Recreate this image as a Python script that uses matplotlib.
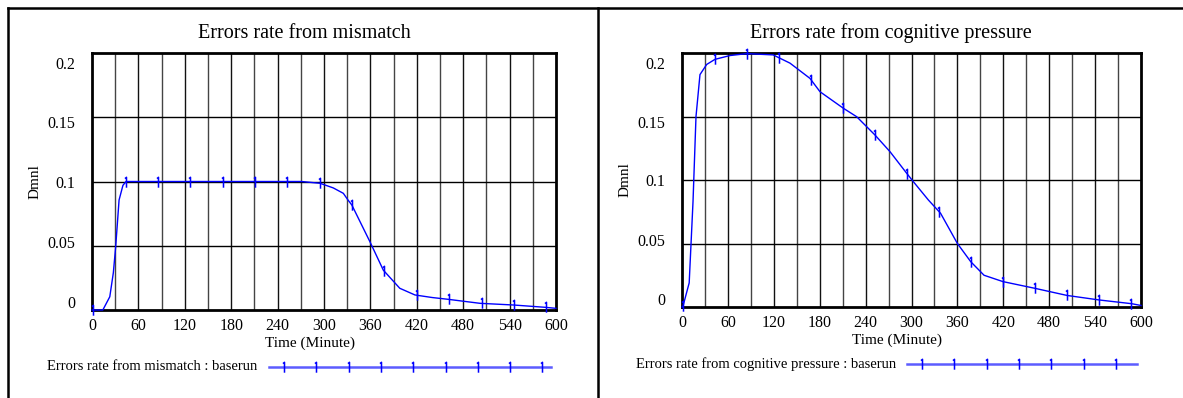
import numpy as np
import matplotlib
matplotlib.use("Agg")
import matplotlib.pyplot as plt
from matplotlib.path import Path
from matplotlib.transforms import ScaledTranslation
from matplotlib.lines import Line2D

# ---------------- data ----------------
mismatch_t = [0, 14, 23, 27.6, 30.6, 35, 40, 44, 100, 200, 271, 295, 312, 325, 331,
              336, 359.5, 376.7, 398, 417.6, 440, 460.7, 501.7, 544.8, 585.8, 600]
mismatch_v = [0, 0, 0.0103, 0.029, 0.049, 0.0856, 0.097, 0.1, 0.1, 0.1, 0.1, 0.0986, 0.095,
              0.0908, 0.0856, 0.0817, 0.053, 0.031, 0.0169, 0.0117, 0.0097, 0.0083, 0.0052,
              0.0039, 0.0021, 0.0013]

cognitive_t = [0, 1, 9.4, 14.4, 18.3, 23.5, 32.3, 43.1, 62.7, 84.6, 119.3, 125.9, 141.2,
               167.3, 180.4, 210.9, 228.4, 252.3, 271.9, 293.7, 302.4, 322, 338, 360, 377.4,
               394.8, 419.5, 461.4, 503.3, 545.8, 587.8, 600]
cognitive_v = [0, 0, 0.019, 0.083, 0.15, 0.183, 0.191, 0.195, 0.198, 0.1995, 0.1985, 0.1965,
               0.192, 0.180, 0.1695, 0.1565, 0.1498, 0.1354, 0.1223, 0.1053, 0.0987, 0.0843,
               0.0738, 0.050, 0.0357, 0.025, 0.020, 0.0147, 0.0091, 0.0055, 0.0026, 0.0012]

marker_times = [1.5 + 41.85 * k for k in range(15)]

x_ticks = [0, 60, 120, 180, 240, 300, 360, 420, 480, 540, 600]
y_ticks = [0, 0.05, 0.1, 0.15, 0.2]
y_ticklabels = ["0", "0.05", "0.1", "0.15", "0.2"]

titles = ["Errors rate from mismatch", "Errors rate from cognitive pressure"]
legend_labels = ["Errors rate from mismatch : baserun",
                 "Errors rate from cognitive pressure : baserun"]

# ---------------- style ----------------
W, H = 1183, 398
DPI = 100
SERIF = ["Liberation Serif", "DejaVu Serif"]
plt.rcParams['font.family'] = SERIF
BLUE = "#0000ff"
LEG_BLUE = "#5c5cff"

# "1"-like marker: vertical stroke with small flag at top-left
one_marker = Path([(0, -1), (0, 1), (-0.3, 0.75)],
                  [Path.MOVETO, Path.LINETO, Path.LINETO])
MS = 7.5

fig = plt.figure(figsize=(W / DPI, H / DPI), dpi=DPI)


def px_axes(x0, y_top, x1, y_bot):
    return fig.add_axes([x0 / W, (H - y_bot) / H, (x1 - x0) / W, (y_bot - y_top) / H])


panels = [
    dict(ax=(92, 53, 556, 310), t=mismatch_t, v=mismatch_v, title_x=304, title_y=33,
         ylab_x=35, xlab_y=343, leg_y=367, leg_text_x=47, leg_line=(269, 551),
         lab_off=[-8.3, -4.1, 0, 5.2, 10.3]),
    dict(ax=(682, 53, 1141, 307), t=cognitive_t, v=cognitive_v, title_x=891, title_y=33,
         ylab_x=625, xlab_y=340, leg_y=364, leg_text_x=636, leg_line=(907, 1137),
         lab_off=[-8, -3.5, 0, 5.5, 10]),
]

for i, p in enumerate(panels):
    x0, yt, x1, yb = p["ax"]
    ax = px_axes(x0, yt, x1, yb)
    ax.set_xlim(0, 600)
    ax.set_ylim(0, 0.2)
    # grid
    for gx in range(30, 600, 30):
        ax.axvline(gx, color="#111111" if gx % 60 == 0 else "#444444", lw=1.0, zorder=1)
    for gy in [0.05, 0.1, 0.15]:
        ax.axhline(gy, color="black", lw=1.0, zorder=1)
    for s in ax.spines.values():
        s.set_linewidth(2.0)
        s.set_color("black")
    # curve
    ax.plot(p["t"], p["v"], color=BLUE, lw=1.0, zorder=3, clip_on=False)
    mv = np.interp(marker_times, p["t"], p["v"])
    ax.plot(marker_times, mv, ls="none", marker=one_marker, ms=MS, mew=1.1,
            color=BLUE, mfc="none", zorder=4, clip_on=False)
    # ticks
    ax.set_xticks(x_ticks)
    ax.set_yticks(y_ticks)
    ax.set_yticklabels(y_ticklabels)
    ax.tick_params(axis="both", length=0, labelsize=11.5)
    ax.tick_params(axis="y", pad=12)
    ax.tick_params(axis="x", pad=6)
    for lab, off in zip(ax.get_yticklabels(), p["lab_off"]):
        lab.set_transform(lab.get_transform() +
                          ScaledTranslation(0, -off / DPI, fig.dpi_scale_trans))
    # texts
    fig.text(p["title_x"] / W, 1 - p["title_y"] / H, titles[i], ha="center", va="center",
             fontsize=14.5)
    fig.text(p["ylab_x"] / W, 1 - ((yt + yb) / 2) / H, "Dmnl", rotation=90,
             ha="center", va="center", fontsize=11)
    fig.text(((x0 + x1) / 2 - 14) / W, 1 - p["xlab_y"] / H, "Time (Minute)",
             ha="center", va="center", fontsize=11, fontstretch="condensed")
    fig.text(p["leg_text_x"] / W, 1 - p["leg_y"] / H, legend_labels[i],
             ha="left", va="center", fontsize=10.5)
    lx0, lx1 = p["leg_line"]
    fig.add_artist(Line2D([lx0 / W, lx1 / W], [1 - p["leg_y"] / H] * 2,
                          transform=fig.transFigure, color=LEG_BLUE, lw=1.8))
    mxs = [lx0 + 15 + 32.3 * k for k in range(9) if lx0 + 15 + 32.3 * k < lx1 - 5]
    fig.add_artist(Line2D([m / W for m in mxs], [1 - p["leg_y"] / H] * len(mxs),
                          transform=fig.transFigure, ls="none", marker=one_marker,
                          ms=MS, mew=1.1, color=BLUE, mfc="none"))

# panel frames
for seg in [((8, 8), (8, H + 5)), ((598, 8), (598, H + 5)), ((8, 8), (W + 5, 8))]:
    (ax0, ay0), (ax1, ay1) = seg
    fig.add_artist(Line2D([ax0 / W, ax1 / W], [1 - ay0 / H, 1 - ay1 / H],
                          transform=fig.transFigure, color="black", lw=1.8))

fig.savefig("out.png", dpi=DPI)
